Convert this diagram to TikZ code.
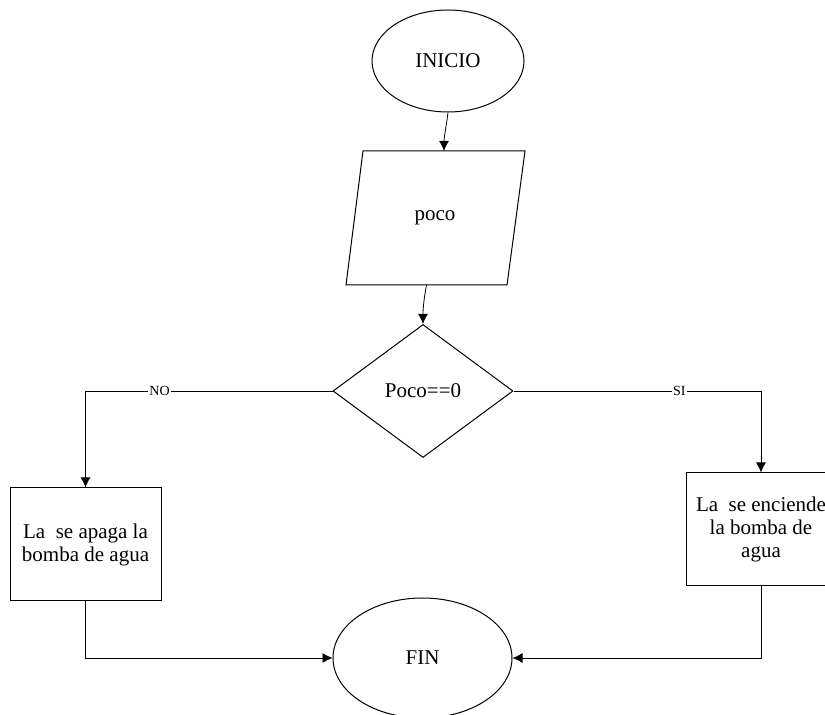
\documentclass[tikz,border=0pt]{standalone}
\usepackage{fontspec}
\setmainfont{Liberation Serif}
\usetikzlibrary{shapes.geometric,arrows.meta}

\tikzset{
  block/.style={draw, line width=0.5pt, inner sep=0pt, align=center,
    font=\fontsize{10.5}{11.5}\selectfont},
  conn/.style={draw, line width=0.4pt, -{Latex[length=5pt,width=5pt]}},
  lbl/.style={fill=white, inner sep=0.5pt, font=\fontsize{7}{8}\selectfont}
}

\begin{document}
\begin{tikzpicture}[x=0.5pt,y=-0.5pt] % <- pixel units, y downwards
   % Picture frame
   \useasboundingbox (0,0) rectangle (825,715);
   % Start
   \node[block, ellipse, minimum width=76pt, minimum height=51pt] (inicio) at (448,61) {INICIO};
   % Input box (parallelogram)
   \draw[line width=0.5pt] (363,151) -- (525,151) -- (507,285) -- (346,285) -- cycle;
   \node[block, draw=none] (poco) at (435,218) {poco};
   \coordinate (pocotop) at (444,151);
   \coordinate (pocobot) at (426.5,285);
   % Decision
   \node[block, diamond, minimum width=90pt, minimum height=66.5pt] (cond) at (423,391) {Poco==0};
   % Actions
   \node[block, rectangle, minimum width=75.5pt, minimum height=56.5pt] (apaga) at (85.5,544.5)
        {La\ \ se apaga la\\bomba de agua};
   \node[block, rectangle, minimum width=75pt, minimum height=56.5pt] (enciende) at (761,529.5)
        {La\ \ se enciende\\la bomba de\\agua};
   % End
   \node[block, ellipse, minimum width=89.5pt, minimum height=60pt] (fin) at (422.5,658) {FIN};
   % Connectors
   \draw[conn] (inicio.south) .. controls +(-2,16) and +(0,-14) .. (pocotop);
   \draw[conn] (pocobot) .. controls +(-3,16) and +(0,-14) .. (cond.north);
   \draw[conn] (cond.west) -| node[lbl, pos=0.35] {NO} (apaga.north);
   \draw[conn] (cond.east) -| node[lbl, pos=0.335] {SI} (enciende.north);
   \draw[conn] (apaga.south) |- (fin.west);
   \draw[conn] (enciende.south) |- (fin.east);
\end{tikzpicture}
\end{document}
